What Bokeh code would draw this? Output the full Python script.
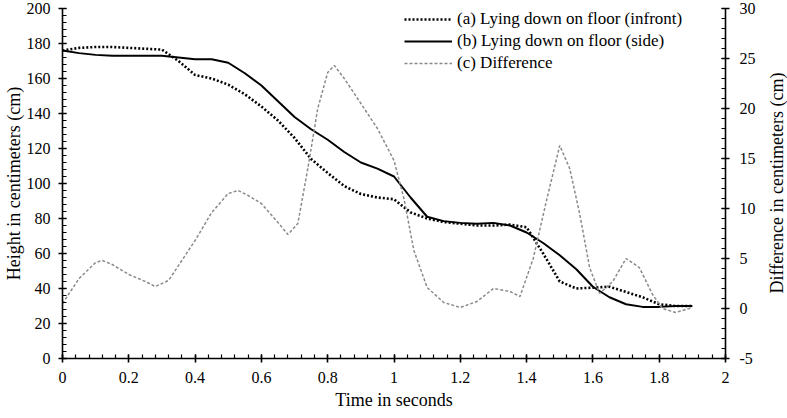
from bokeh.plotting import figure
from bokeh.layouts import row
from bokeh.models import (Range1d, LinearAxis, SingleIntervalTicker, Legend,
                          LegendItem, CustomJSTickFormatter, Div)
from bokeh.embed import file_html
from bokeh.resources import INLINE

# Time samples (s) for the two height curves
t_height = [0.00, 0.05, 0.10, 0.15, 0.20, 0.25, 0.30, 0.35, 0.40, 0.45,
            0.50, 0.55, 0.60, 0.65, 0.70, 0.75, 0.80, 0.85, 0.90, 0.95,
            1.00, 1.05, 1.10, 1.15, 1.20, 1.25, 1.30, 1.35, 1.40, 1.45,
            1.50, 1.55, 1.60, 1.65, 1.70, 1.75, 1.80, 1.85, 1.90]

# (a) Lying down on floor, camera in front (cm)
height_infront = [176, 177.5, 178, 178, 177.5, 177, 176.5, 170, 162, 160,
                  156.5, 151, 144, 136, 126, 114, 106, 98.5, 94, 92,
                  91, 83.5, 80, 78, 77, 76, 76, 76.5, 75, 60,
                  44, 40, 40.5, 41, 38, 35, 31, 30, 30]

# (b) Lying down on floor, camera at the side (cm)
height_side = [176, 174.5, 173.5, 173, 173, 173, 173, 172, 171, 171,
               169, 163, 156, 147, 138, 131, 125, 118, 112, 108.5,
               104, 92, 81, 78.5, 77.5, 77, 77.5, 76, 72, 66,
               59, 51, 41, 35, 31, 29.5, 29.5, 30, 30]

# (c) Difference between the two views (cm)
t_diff = [0.00, 0.05, 0.10, 0.12, 0.15, 0.20, 0.25, 0.28, 0.32, 0.36,
          0.40, 0.45, 0.50, 0.53, 0.56, 0.60, 0.65, 0.68, 0.71, 0.74,
          0.77, 0.80, 0.82, 0.85, 0.90, 0.95, 1.00, 1.03, 1.06, 1.10,
          1.15, 1.20, 1.25, 1.30, 1.35, 1.38, 1.42, 1.46, 1.50, 1.53,
          1.56, 1.59, 1.62, 1.66, 1.70, 1.74, 1.78, 1.81, 1.85, 1.90]
difference = [0.5, 3.0, 4.6, 4.8, 4.4, 3.4, 2.7, 2.2, 2.8, 4.8,
              6.8, 9.6, 11.5, 11.8, 11.3, 10.5, 8.6, 7.4, 8.5, 14.0,
              20.0, 23.6, 24.3, 23.0, 20.5, 18.0, 14.8, 11.0, 5.8, 2.1,
              0.6, 0.1, 0.7, 2.0, 1.7, 1.2, 5.0, 10.8, 16.3, 14.0,
              9.5, 4.1, 1.5, 2.7, 5.0, 4.1, 1.4, 0.0, -0.4, 0.1]

legend_labels = ["(a) Lying down on floor (infront)",
                 "(b) Lying down on floor (side)",
                 "(c) Difference"]
right_title = "Difference in centimeters (cm)"

FONT = "Liberation Serif"

p = figure(width=767, height=418, output_backend="svg", toolbar_location=None,
           x_range=Range1d(0, 2), y_range=Range1d(0, 200),
           min_border_left=58, min_border_right=42,
           min_border_top=8, min_border_bottom=60)
p.outline_line_color = None
p.grid.visible = False
p.background_fill_color = "white"
p.border_fill_color = "white"
p.extra_y_ranges = {"diff": Range1d(-5, 30)}

fmt = CustomJSTickFormatter(code="return parseFloat(tick.toFixed(2)).toString();")

right_axis = LinearAxis(y_range_name="diff")
p.add_layout(right_axis, "right")

p.xaxis.ticker = SingleIntervalTicker(interval=0.2, num_minor_ticks=5)
p.yaxis[0].ticker = SingleIntervalTicker(interval=20, num_minor_ticks=5)
right_axis.ticker = SingleIntervalTicker(interval=5, num_minor_ticks=5)

p.xaxis.axis_label = "Time in seconds"
p.yaxis[0].axis_label = "Height in centimeters (cm)"

for ax in [p.xaxis[0], p.yaxis[0], right_axis]:
    ax.formatter = fmt
    ax.axis_line_color = "black"
    ax.axis_line_width = 1.6
    ax.major_tick_line_color = "black"
    ax.major_tick_line_width = 1.6
    ax.minor_tick_line_color = "black"
    ax.minor_tick_line_width = 1.2
    ax.major_tick_in = 4
    ax.major_tick_out = 4
    ax.minor_tick_in = 4
    ax.minor_tick_out = 0
    ax.major_label_text_font = FONT
    ax.major_label_text_font_size = "16px"
    ax.major_label_text_color = "black"
    ax.axis_label_text_font = FONT
    ax.axis_label_text_font_size = "18px"
    ax.axis_label_text_font_style = "normal"
    ax.axis_label_text_color = "black"

p.xaxis[0].major_label_standoff = 9
p.xaxis[0].axis_label_standoff = 4
p.yaxis[0].major_label_standoff = 8
p.yaxis[0].axis_label_standoff = 0
right_axis.major_label_standoff = 10

r_a = p.line(t_height, height_infront, line_color="black", line_width=2.6,
             line_dash="2 2")
r_b = p.line(t_height, height_side, line_color="black", line_width=2)
r_c = p.line(t_diff, difference, y_range_name="diff", line_color="#8a8a8a",
             line_width=1.5, line_dash="3 2")

legend = Legend(items=[LegendItem(label=legend_labels[0], renderers=[r_a]),
                       LegendItem(label=legend_labels[1], renderers=[r_b]),
                       LegendItem(label=legend_labels[2], renderers=[r_c])],
                location=(342, 285))
legend.label_text_font = FONT
legend.label_text_font_size = "17px"
legend.label_text_color = "black"
legend.glyph_width = 48
legend.glyph_height = 20
legend.label_height = 20
legend.label_standoff = 5
legend.spacing = 2
legend.padding = 0
legend.margin = 0
legend.border_line_color = None
legend.background_fill_alpha = 0
p.add_layout(legend)

# right-hand title in a narrow strip, rotated to read bottom to top
title_html = (
    '<div style="position:absolute; left:10px; top:183px; '
    'transform:translate(-50%,-50%) rotate(-90deg); white-space:nowrap; '
    "font-family:'Liberation Serif'; font-size:18px; line-height:1; "
    'color:black;">' + right_title + '</div>'
)
side_title = Div(text=title_html, width=20, height=418, margin=0,
                 styles={"background-color": "white", "overflow": "visible"})

layout = row(p, side_title, spacing=0)

open("out.html", "w").write(file_html(layout, INLINE))
